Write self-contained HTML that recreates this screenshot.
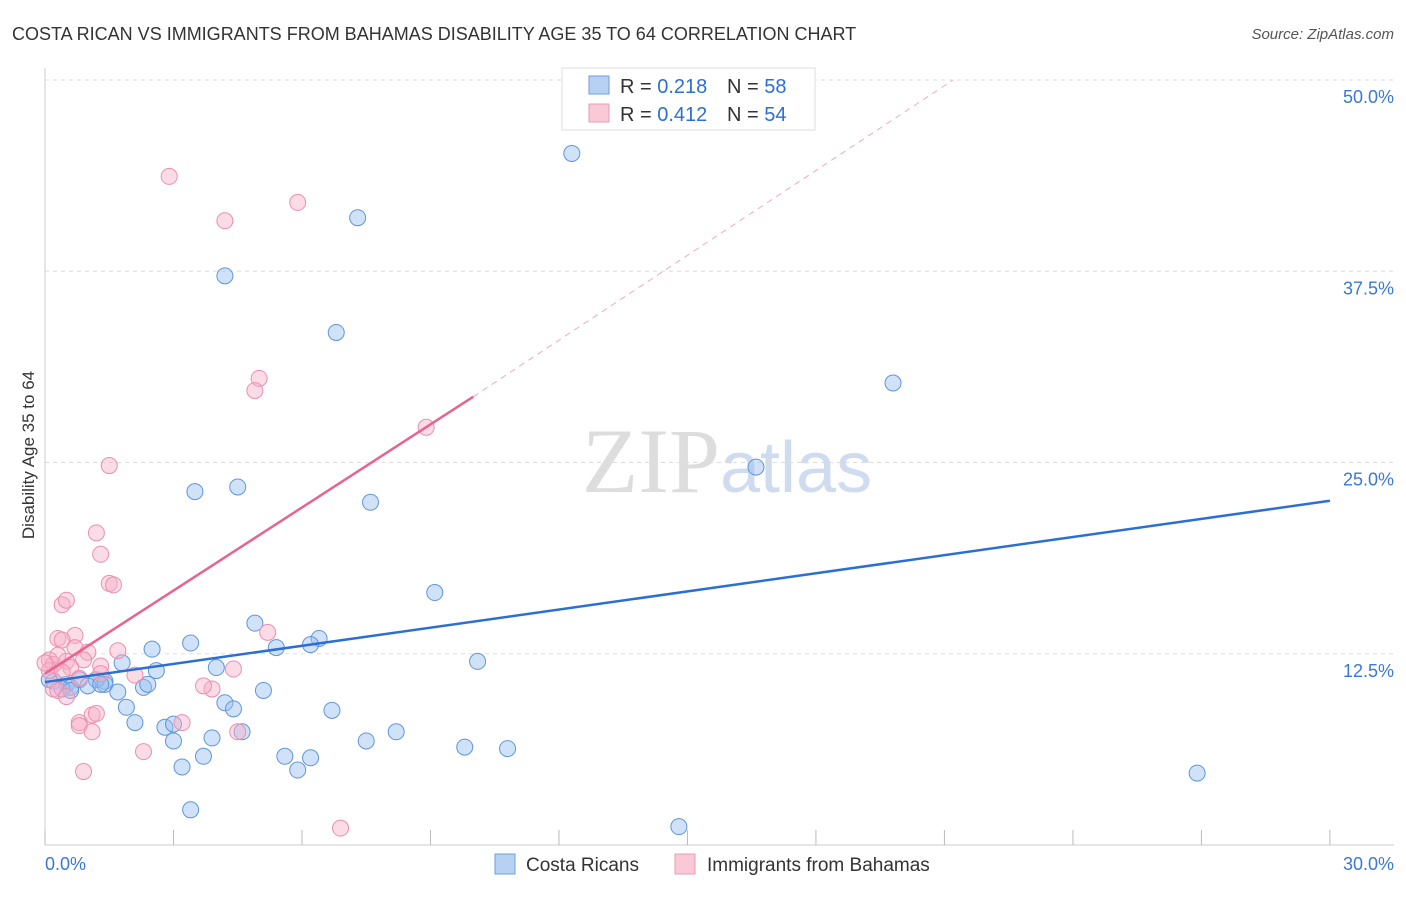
<!DOCTYPE html>
<html><head><meta charset="utf-8"><style>
body{margin:0;background:#fff;font-family:"Liberation Sans",sans-serif}
</style></head><body>
<svg width="1406" height="892" xmlns="http://www.w3.org/2000/svg" id="svg">
<text x="12" y="40" font-size="18" fill="#333">COSTA RICAN VS IMMIGRANTS FROM BAHAMAS DISABILITY AGE 35 TO 64 CORRELATION CHART</text>
<text x="1394" y="39" font-size="15" fill="#555" font-style="italic" text-anchor="end">Source: ZipAtlas.com</text>
<text x="720" y="492" font-size="92" fill="#ddd" text-anchor="end" font-family="Liberation Serif">ZIP</text>
<text x="720" y="492" font-size="72" fill="#cfdcf0">atlas</text>
<text transform="translate(34,455) rotate(-90)" font-size="17" fill="#333" text-anchor="middle">Disability Age 35 to 64</text>
<g id="grid"></g><g id="pts"></g><g id="lines"></g>
<g>
<rect x="562" y="68" width="253" height="62" fill="#fff" stroke="#ddd"/>
<rect x="589" y="76" width="20" height="18" fill="#b7d1f3" stroke="#6c9ee0"/>
<rect x="589" y="104" width="20" height="18" fill="#f9c9d8" stroke="#eb9ab5"/>
<text x="620" y="93" font-size="20" fill="#333">R = <tspan fill="#2b6fd6">0.218</tspan><tspan x="727">N = </tspan><tspan fill="#2b6fd6">58</tspan></text>
<text x="620" y="121" font-size="20" fill="#333">R = <tspan fill="#2b6fd6">0.412</tspan><tspan x="727">N = </tspan><tspan fill="#2b6fd6">54</tspan></text>
</g>
<g>
<rect x="495" y="854" width="20" height="20" fill="#b7d1f3" stroke="#6c9ee0"/>
<text x="526" y="871" font-size="19" fill="#333">Costa Ricans</text>
<rect x="675" y="854" width="20" height="20" fill="#f9c9d8" stroke="#eb9ab5"/>
<text x="707" y="871" font-size="19" fill="#333">Immigrants from Bahamas</text>
</g>
</svg>
<script>
const yTicks=[12.5,25,37.5,50];
const xTickLabels=["0.0%","30.0%"];
const blueX=[12.3,7.3,4.2,6.8,19.8,16.6,3.5,4.5,7.6,9.1,4.9,2.5,3.4,6.4,5.4,6.2,10.1,1.8,2.6,4.0,1.4,0.8,1.2,1.4,1.0,0.5,0.2,0.1,0.6,1.7,2.3,2.4,5.1,4.2,4.4,1.9,6.7,2.1,2.8,3.0,4.6,3.0,3.9,7.5,8.2,9.8,10.8,3.7,5.6,6.2,3.2,5.9,26.9,3.4,14.8,0.4,0.6,1.3];
const blueY=[45.2,41.0,37.2,33.5,30.2,24.7,23.1,23.4,22.4,16.5,14.5,12.8,13.2,13.5,12.9,13.1,12.0,11.9,11.4,11.6,10.7,10.8,10.8,10.5,10.4,10.5,10.7,10.8,10.3,10.0,10.3,10.5,10.1,9.3,8.9,9.0,8.8,8.0,7.7,7.9,7.4,6.8,7.0,6.8,7.4,6.4,6.3,5.8,5.8,5.7,5.1,4.9,4.7,2.3,1.2,10.2,10.1,10.5];
const pinkX=[2.9,5.9,4.2,5.0,4.9,8.9,1.5,1.2,1.3,1.5,1.6,0.4,0.5,0.7,0.3,0.4,5.2,1.0,1.7,0.7,0.1,0.2,0.5,0.9,1.3,1.3,4.4,2.1,0.6,0.1,0.2,0.3,3.9,3.7,0.5,1.1,1.2,0.8,0.8,1.1,3.2,4.5,2.3,0.9,6.9,0.4,0.0,0.3,0.8];
const pinkY=[43.7,42.0,40.8,30.5,29.7,27.3,24.8,20.4,19.0,17.1,17.0,15.7,16.0,13.7,13.5,13.4,13.9,12.6,12.7,12.9,12.1,11.8,12.0,12.1,11.7,11.2,11.5,11.1,11.6,11.4,10.2,10.1,10.2,10.4,9.7,8.5,8.6,8.0,7.8,7.4,8.0,7.4,6.1,4.8,1.1,11.3,11.9,12.4,10.9];
const blueLine=[[0,10.65],[30,22.5]];
const pinkLine=[[0,11.2],[10,29.3]];
const pinkDash=[[10,29.3],[21.2,50]];
const X=v=>45+v*42.83, Y=v=>845-v*15.3;
const NS="http://www.w3.org/2000/svg";
function mk(t,a,p){const e=document.createElementNS(NS,t);for(const k in a)e.setAttribute(k,a[k]);p.appendChild(e);return e;}
const g=document.getElementById('grid');
yTicks.forEach(t=>{
 const l=mk('line',{x1:45,x2:1394,y1:Y(t),y2:Y(t),stroke:'#ddd','stroke-dasharray':'4,4'},g);
 
 
 const tx=mk('text',{x:1394,y:Y(t)+23,'font-size':18,fill:'#3a78d6','text-anchor':'end'},g);
 tx.textContent=t.toFixed(1)+'%';
 
 
});
const ax=mk('line',{x1:45,x2:1394,y1:845,y2:845,stroke:'#ccc'},g);


const ay=mk('line',{x1:45,x2:45,y1:68,y2:845,stroke:'#ccc'},g);


for(let i=0;i<=10;i++){const t=mk('line',{x1:X(i*3),x2:X(i*3),y1:830,y2:845,stroke:'#bbb'},g);
 
 }
[[X(0),'start',xTickLabels[0]],[1394,'end',xTickLabels[1]]].forEach(([x,a,s])=>{
 const t=mk('text',{x:x,y:870,'font-size':18,fill:'#3a78d6','text-anchor':a},g);t.textContent=s;
 
 });
const p=document.getElementById('pts');
blueX.forEach((v,i)=>{const c=mk('circle',{cx:X(v),cy:Y(blueY[i]),r:8,fill:'rgba(150,190,240,0.45)',stroke:'#5f95da','stroke-width':1},p);
 
 });
pinkX.forEach((v,i)=>{const c=mk('circle',{cx:X(v),cy:Y(pinkY[i]),r:8,fill:'rgba(247,175,200,0.45)',stroke:'#eb8fae','stroke-width':1},p);
 
 });
const L=document.getElementById('lines');
const b=mk('line',{x1:X(blueLine[0][0]),y1:Y(blueLine[0][1]),x2:X(blueLine[1][0]),y2:Y(blueLine[1][1]),stroke:'#2b6fd6','stroke-width':2.5},L);


const pl=mk('line',{x1:X(pinkLine[0][0]),y1:Y(pinkLine[0][1]),x2:X(pinkLine[1][0]),y2:Y(pinkLine[1][1]),stroke:'#e8648f','stroke-width':2.5},L);


const pd=mk('line',{x1:X(pinkDash[0][0]),y1:Y(pinkDash[0][1]),x2:X(pinkDash[1][0]),y2:Y(pinkDash[1][1]),stroke:'#f0a9c0','stroke-width':1,'stroke-dasharray':'6,5'},L);


</script>
</body></html>
